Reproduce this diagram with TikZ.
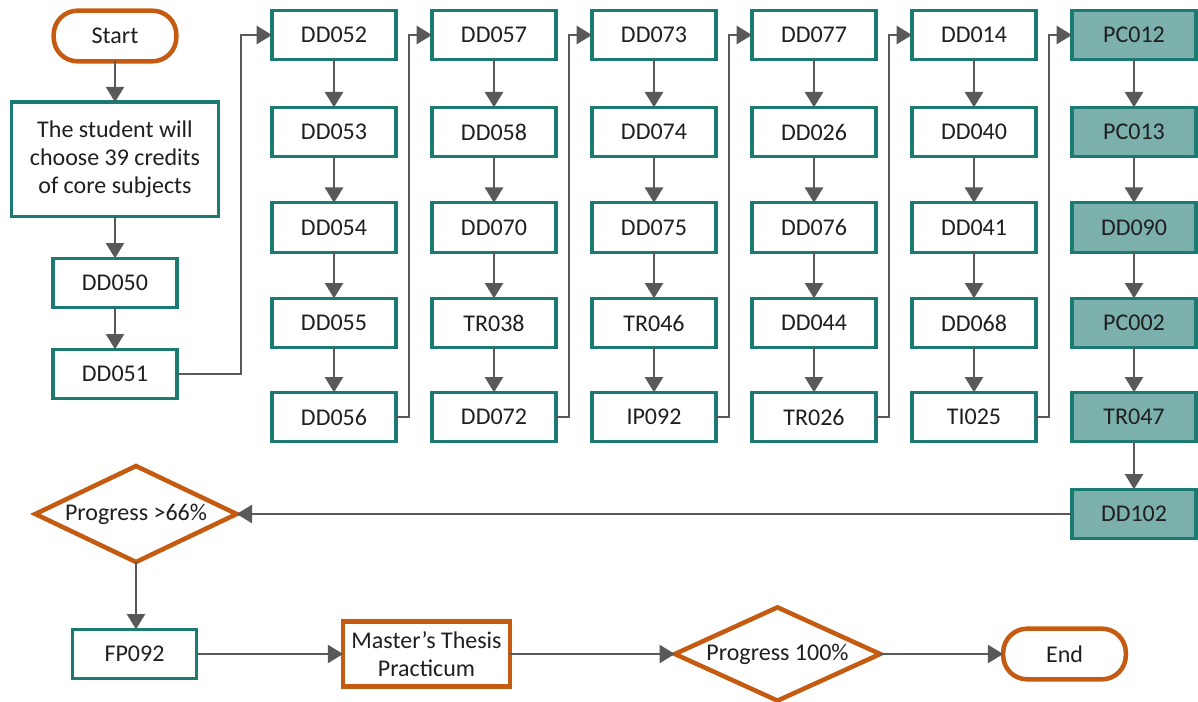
\documentclass[tikz,border=0pt]{standalone}
\usepackage{fontspec}
\setmainfont{Carlito}
\usetikzlibrary{arrows.meta,shapes.geometric}
\definecolor{tealline}{HTML}{1B7A72}
\definecolor{tealfill}{HTML}{7BB0AC}
\definecolor{orangeline}{HTML}{C55A11}
\definecolor{arrowgray}{HTML}{595959}
\definecolor{txt}{HTML}{1F1F1F}
\tikzset{
  base/.style={inner sep=0pt, outer sep=0pt, text=txt, font=\fontsize{18}{21}\selectfont, align=center},
  course/.style={base, draw=tealline, line width=2.5pt, fill=white, minimum width=93pt, minimum height=37pt},
  corecourse/.style={course, fill=tealfill},
  term/.style={base, draw=orangeline, line width=3.4pt, fill=white, rounded corners=18pt, minimum width=92pt, minimum height=38pt},
  decision/.style={base, diamond, draw=orangeline, line width=3.4pt, fill=white, aspect=2.1},
  orangebox/.style={base, draw=orangeline, line width=3.4pt, fill=white, minimum width=125pt, minimum height=49pt},
  flow/.style={draw=arrowgray, line width=1.9pt, -{Triangle[length=11.5pt,width=13.5pt]}},
}
\begin{document}
\begin{tikzpicture}[x=0.75pt,y=-0.75pt]
\useasboundingbox (0,0) rectangle (1198,702);

% entry column
\node[term] (start) at (115,36) {Start};
\node[course, minimum width=155pt, minimum height=86pt] (intro) at (115,159.5) {The student will\\choose 39 credits\\of core subjects};
\node[course] (dd050) at (115,283) {DD050};
\node[course] (dd051) at (115,374) {DD051};

% course columns
\node[course] (dd052) at (334,35) {DD052};
\node[course] (dd053) at (334,132) {DD053};
\node[course] (dd054) at (334,227.5) {DD054};
\node[course] (dd055) at (334,323) {DD055};
\node[course] (dd056) at (334,417) {DD056};

\node[course] (dd057) at (494,35) {DD057};
\node[course] (dd058) at (494,132) {DD058};
\node[course] (dd070) at (494,227.5) {DD070};
\node[course] (tr038) at (494,323) {TR038};
\node[course] (dd072) at (494,417) {DD072};

\node[course] (dd073) at (654,35) {DD073};
\node[course] (dd074) at (654,132) {DD074};
\node[course] (dd075) at (654,227.5) {DD075};
\node[course] (tr046) at (654,323) {TR046};
\node[course] (ip092) at (654,417) {IP092};

\node[course] (dd077) at (814,35) {DD077};
\node[course] (dd026) at (814,132) {DD026};
\node[course] (dd076) at (814,227.5) {DD076};
\node[course] (dd044) at (814,323) {DD044};
\node[course] (tr026) at (814,417) {TR026};

\node[course] (dd014) at (974,35) {DD014};
\node[course] (dd040) at (974,132) {DD040};
\node[course] (dd041) at (974,227.5) {DD041};
\node[course] (dd068) at (974,323) {DD068};
\node[course] (ti025) at (974,417) {TI025};

\node[corecourse] (pc012) at (1134,35) {PC012};
\node[corecourse] (pc013) at (1134,132) {PC013};
\node[corecourse] (dd090) at (1134,227.5) {DD090};
\node[corecourse] (pc002) at (1134,323) {PC002};
\node[corecourse] (tr047) at (1134,417) {TR047};
\node[corecourse] (dd102) at (1134,514) {DD102};

% final stage
\node[decision, minimum width=151pt, minimum height=72pt] (prog66) at (136,514) {Progress >66\%};
\node[course] (fp092) at (134.5,654) {FP092};
\node[orangebox] (thesis) at (426.5,654) {Master’s Thesis\\Practicum};
\node[decision, minimum width=154pt, minimum height=70pt] (prog100) at (777.5,654) {Progress 100\%};
\node[term] (end) at (1064.5,654) {End};

% connectors
\draw[flow] (start) -- (intro);
\draw[flow] (intro) -- (dd050);
\draw[flow] (dd050) -- (dd051);
\draw[flow] (dd051.east) -- ++(64,0) |- (dd052.west);

\draw[flow] (dd052) -- (dd053);
\draw[flow] (dd053) -- (dd054);
\draw[flow] (dd054) -- (dd055);
\draw[flow] (dd055) -- (dd056);
\draw[flow] (dd056.east) -- ++(13,0) |- (dd057.west);

\draw[flow] (dd057) -- (dd058);
\draw[flow] (dd058) -- (dd070);
\draw[flow] (dd070) -- (tr038);
\draw[flow] (tr038) -- (dd072);
\draw[flow] (dd072.east) -- ++(13,0) |- (dd073.west);

\draw[flow] (dd073) -- (dd074);
\draw[flow] (dd074) -- (dd075);
\draw[flow] (dd075) -- (tr046);
\draw[flow] (tr046) -- (ip092);
\draw[flow] (ip092.east) -- ++(13,0) |- (dd077.west);

\draw[flow] (dd077) -- (dd026);
\draw[flow] (dd026) -- (dd076);
\draw[flow] (dd076) -- (dd044);
\draw[flow] (dd044) -- (tr026);
\draw[flow] (tr026.east) -- ++(13,0) |- (dd014.west);

\draw[flow] (dd014) -- (dd040);
\draw[flow] (dd040) -- (dd041);
\draw[flow] (dd041) -- (dd068);
\draw[flow] (dd068) -- (ti025);
\draw[flow] (ti025.east) -- ++(13,0) |- (pc012.west);

\draw[flow] (pc012) -- (pc013);
\draw[flow] (pc013) -- (dd090);
\draw[flow] (dd090) -- (pc002);
\draw[flow] (pc002) -- (tr047);
\draw[flow] (tr047) -- (dd102);

\draw[flow] (dd102.west) -- (prog66.east);
\draw[flow] (prog66.south) -- (prog66.south |- fp092.north);
\draw[flow] (fp092) -- (thesis);
\draw[flow] (thesis) -- (prog100);
\draw[flow] (prog100) -- (end);
\end{tikzpicture}
\end{document}
